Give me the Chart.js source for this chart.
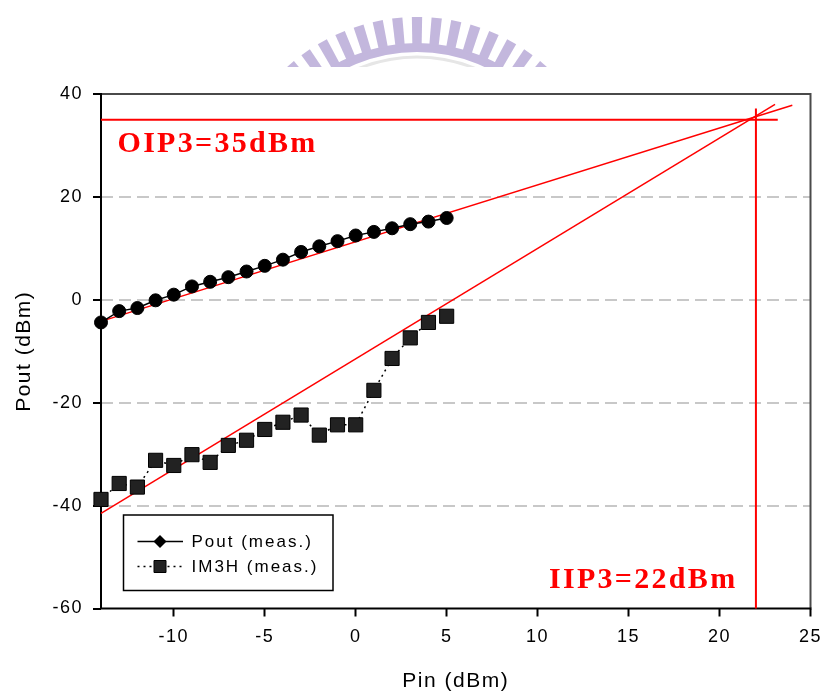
<!DOCTYPE html>
<html>
<head>
<meta charset="utf-8">
<script src="https://cdn.jsdelivr.net/npm/chart.js@4/dist/chart.umd.min.js"></script>
<style>
  html, body { margin: 0; padding: 0; background: #ffffff; }
  canvas { display: block; }
</style>
</head>
<body>
<canvas id="chart" width="822" height="693"></canvas>
<script>
// Measured input sweep (dBm)
const pinValues = [-14, -13, -12, -11, -10, -9, -8, -7, -6, -5, -4, -3, -2, -1, 0, 1, 2, 3, 4, 5];
// Fundamental output power (dBm)
const poutValues = [-4.4, -2.2, -1.6, -0.1, 1.0, 2.6, 3.5, 4.4, 5.5, 6.6, 7.8, 9.3, 10.4, 11.4, 12.5, 13.2, 13.9, 14.7, 15.2, 15.9];
// Third-order intermodulation product, high side (dBm)
const im3hValues = [-38.8, -35.7, -36.4, -31.2, -32.2, -30.1, -31.6, -28.3, -27.3, -25.2, -23.8, -22.4, -26.3, -24.3, -24.3, -17.6, -11.4, -7.4, -4.4, -3.2];

// Extrapolated straight-line fits (end points)
const poutFitPin = [-14, 24];
const poutFitOut = [-4.2, 37.8];
const im3FitPin = [-14, 23.05];
const im3FitOut = [-41.5, 38.0];

// Intercept points (dBm)
const OIP3 = 35;
const IIP3 = 22;
const oip3LineEnd = 23.2;   // Pin where the OIP3 marker line stops
const iip3LineTop = 37.2;   // Pout where the IIP3 marker line starts

// Axis ticks
const xTickValues = [-10, -5, 0, 5, 10, 15, 20, 25];
const yTickValues = [-60, -40, -20, 0, 20, 40];

const toPoints = (xs, ys) => xs.map((x, i) => ({ x: x, y: ys[i] }));

const SANS = '"Liberation Sans", Arial, sans-serif';
const SERIF = '"Liberation Serif", "Times New Roman", serif';

// University crest watermark peeking above the plot
function drawWatermark(ctx) {
  ctx.save();
  ctx.beginPath();
  ctx.rect(0, 0, 822, 67);
  ctx.clip();
  const cx = 417, cy = 211;
  ctx.fillStyle = '#c3b7dd';
  // solid ring under the teeth
  ctx.beginPath();
  ctx.arc(cx, cy, 168, Math.PI, 2 * Math.PI);
  ctx.arc(cx, cy, 159, 2 * Math.PI, Math.PI, true);
  ctx.closePath();
  ctx.fill();
  // teeth
  const step = 0.102, half = 0.028;
  for (let k = -9; k <= 9; k++) {
    const a = -Math.PI / 2 + k * step;
    const r1 = 166, r2 = 194;
    ctx.beginPath();
    ctx.moveTo(cx + r1 * Math.cos(a - half), cy + r1 * Math.sin(a - half));
    ctx.lineTo(cx + r2 * Math.cos(a - half * 0.95), cy + r2 * Math.sin(a - half * 0.95));
    ctx.lineTo(cx + r2 * Math.cos(a + half * 0.95), cy + r2 * Math.sin(a + half * 0.95));
    ctx.lineTo(cx + r1 * Math.cos(a + half), cy + r1 * Math.sin(a + half));
    ctx.closePath();
    ctx.fill();
  }
  // faint inner arc
  ctx.strokeStyle = '#e6e6e6';
  ctx.lineWidth = 3;
  ctx.beginPath();
  ctx.arc(cx, cy, 154, Math.PI, 2 * Math.PI);
  ctx.stroke();
  ctx.restore();
}

const decorPlugin = {
  id: 'decor',
  beforeDraw(chart) {
    const ctx = chart.ctx;
    ctx.save();
    ctx.fillStyle = '#ffffff';
    ctx.fillRect(0, 0, chart.width, chart.height);
    ctx.restore();
    drawWatermark(ctx);
    ctx.letterSpacing = '1.5px';
  },
  beforeDatasetsDraw(chart) {
    const { ctx, chartArea: a } = chart;
    ctx.save();
    ctx.lineWidth = 2;
    ctx.strokeStyle = '#4a4a4a';
    ctx.beginPath();
    ctx.moveTo(a.left, a.top);
    ctx.lineTo(a.right, a.top);
    ctx.lineTo(a.right, a.bottom);
    ctx.stroke();
    ctx.strokeStyle = '#000000';
    ctx.beginPath();
    ctx.moveTo(a.left, a.top - 1);
    ctx.lineTo(a.left, a.bottom);
    ctx.lineTo(a.right + 1, a.bottom);
    ctx.stroke();
    ctx.restore();
  },
  afterDatasetsDraw(chart) {
    const ctx = chart.ctx;
    const ds = chart.data.datasets;
    // legend box
    ctx.save();
    ctx.fillStyle = '#ffffff';
    ctx.fillRect(123.5, 515, 209.5, 75.5);
    ctx.strokeStyle = '#000000';
    ctx.lineWidth = 1.5;
    ctx.strokeRect(123.5, 515, 209.5, 75.5);

    const rows = [
      { y: 541.5, ds: ds[0], marker: 'diamond' },
      { y: 566.5, ds: ds[1], marker: 'square' }
    ];
    rows.forEach(r => {
      ctx.save();
      ctx.strokeStyle = '#000000';
      ctx.lineWidth = 1.5;
      ctx.setLineDash(r.ds.borderDash || []);
      ctx.beginPath();
      ctx.moveTo(137.5, r.y);
      ctx.lineTo(183, r.y);
      ctx.stroke();
      ctx.setLineDash([]);
      ctx.fillStyle = r.ds.pointBackgroundColor;
      ctx.beginPath();
      if (r.marker === 'diamond') {
        ctx.moveTo(160, r.y - 6.5);
        ctx.lineTo(166.5, r.y);
        ctx.lineTo(160, r.y + 6.5);
        ctx.lineTo(153.5, r.y);
        ctx.closePath();
        ctx.fill();
      } else {
        ctx.rect(154, r.y - 6, 12, 12);
        ctx.fill();
        ctx.lineWidth = 1;
        ctx.stroke();
      }
      ctx.restore();
      ctx.fillStyle = '#000000';
      ctx.font = '17px ' + SANS;
      ctx.letterSpacing = '2px';
      ctx.textAlign = 'left';
      ctx.textBaseline = 'middle';
      ctx.fillText(r.ds.label, 191.5, r.y + 1);
    });
    ctx.restore();
  },
  afterDraw(chart) {
    const ctx = chart.ctx;
    ctx.save();
    ctx.fillStyle = '#ff0000';
    ctx.font = 'bold 30px ' + SERIF;
    ctx.letterSpacing = '2.3px';
    ctx.textAlign = 'left';
    ctx.textBaseline = 'alphabetic';
    ctx.fillText('OIP3=' + OIP3 + 'dBm', 117.5, 151.5);
    ctx.fillText('IIP3=' + IIP3 + 'dBm', 549, 587.5);
    ctx.restore();
  }
};

new Chart(document.getElementById('chart'), {
  type: 'scatter',
  data: {
    datasets: [
      {
        label: 'Pout (meas.)',
        data: toPoints(pinValues, poutValues),
        showLine: true,
        borderColor: '#000000',
        borderWidth: 1.5,
        pointStyle: 'circle',
        pointRadius: 6.5,
        pointBackgroundColor: '#000000',
        pointBorderColor: '#000000',
        pointBorderWidth: 1,
        clip: false
      },
      {
        label: 'IM3H (meas.)',
        data: toPoints(pinValues, im3hValues),
        showLine: true,
        borderColor: '#000000',
        borderWidth: 1.5,
        borderDash: [2, 4],
        pointStyle: 'rect',
        pointRadius: 10,
        pointBackgroundColor: '#222222',
        pointBorderColor: '#000000',
        pointBorderWidth: 1,
        clip: false
      },
      {
        label: 'Pout fit',
        data: toPoints(poutFitPin, poutFitOut),
        showLine: true,
        borderColor: '#ff0000',
        borderWidth: 1.5,
        pointRadius: 0,
        clip: false
      },
      {
        label: 'IM3 fit',
        data: toPoints(im3FitPin, im3FitOut),
        showLine: true,
        borderColor: '#ff0000',
        borderWidth: 1.5,
        pointRadius: 0,
        clip: false
      },
      {
        label: 'OIP3',
        data: [{ x: -14, y: OIP3 }, { x: oip3LineEnd, y: OIP3 }],
        showLine: true,
        borderColor: '#ff0000',
        borderWidth: 2,
        pointRadius: 0,
        clip: false
      },
      {
        label: 'IIP3',
        data: [{ x: IIP3, y: iip3LineTop }, { x: IIP3, y: -60 }],
        showLine: true,
        borderColor: '#ff0000',
        borderWidth: 2,
        pointRadius: 0,
        clip: false
      }
    ]
  },
  options: {
    responsive: false,
    animation: false,
    events: [],
    layout: { padding: { left: 0, top: 94, right: 11.5, bottom: 0 } },
    plugins: {
      legend: { display: false },
      tooltip: { enabled: false },
      title: { display: false }
    },
    scales: {
      x: {
        type: 'linear',
        min: -14,
        max: 25,
        afterBuildTicks: s => { s.ticks = xTickValues.map(v => ({ value: v })); },
        afterFit: s => { s.height = 84.5; s.paddingLeft = 0; s.paddingRight = 0; },
        border: { display: false },
        grid: {
          color: 'transparent',
          tickColor: '#000000',
          tickLength: 8,
          tickWidth: 2,
          drawOnChartArea: false
        },
        ticks: {
          color: '#000000',
          font: { family: SANS, size: 18 },
          padding: 10,
          maxRotation: 0,
          autoSkip: false
        },
        title: {
          display: true,
          text: 'Pin (dBm)',
          color: '#000000',
          font: { family: SANS, size: 21, lineHeight: 1.1 },
          padding: { top: 0, bottom: 0 }
        }
      },
      y: {
        type: 'linear',
        min: -60,
        max: 40,
        afterBuildTicks: s => { s.ticks = yTickValues.map(v => ({ value: v })); },
        afterFit: s => { s.width = 101; s.paddingTop = 0; s.paddingBottom = 0; },
        border: { display: false, dash: [12, 6] },
        grid: {
          color: c => (c.tick && (c.tick.value === 40 || c.tick.value === -60)) ? 'transparent' : '#c8c8c8',
          lineWidth: 2,
          tickColor: '#000000',
          tickLength: 8,
          tickWidth: 2,
          tickBorderDash: []
        },
        ticks: {
          color: '#000000',
          font: { family: SANS, size: 18 },
          padding: 10,
          autoSkip: false
        },
        title: {
          display: true,
          text: 'Pout (dBm)',
          color: '#000000',
          font: { family: SANS, size: 21, lineHeight: 1.1 },
          padding: { top: 12.5, bottom: 0 }
        }
      }
    }
  },
  plugins: [decorPlugin]
});
</script>
</body>
</html>
